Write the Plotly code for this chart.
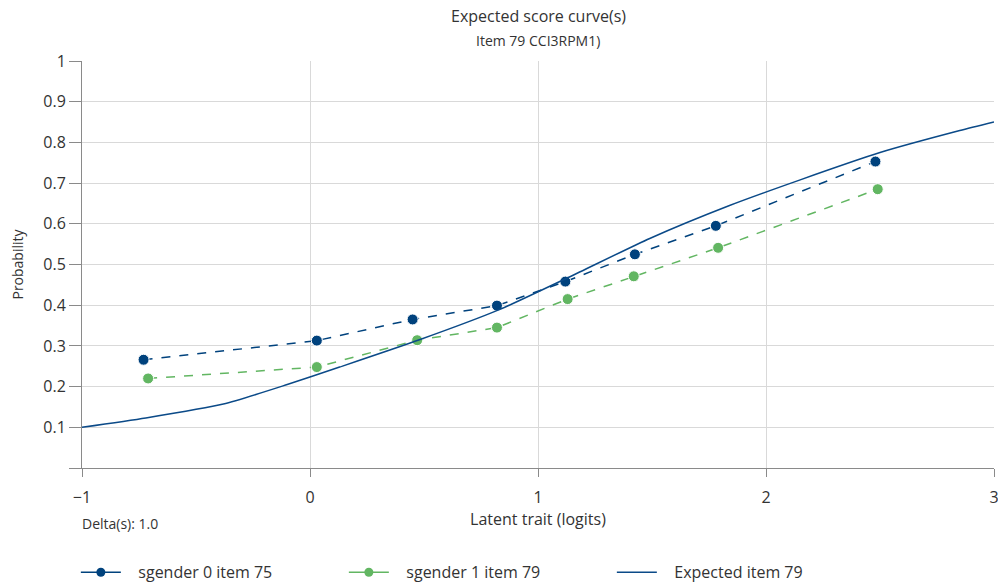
import plotly.graph_objects as go

# ---- data ----
g0_x = [-0.73, 0.03, 0.45, 0.82, 1.12, 1.425, 1.78, 2.48]
g0_y = [0.266, 0.313, 0.365, 0.399, 0.458, 0.525, 0.595, 0.753]

g1_x = [-0.71, 0.03, 0.47, 0.82, 1.13, 1.42, 1.79, 2.49]
g1_y = [0.220, 0.248, 0.314, 0.345, 0.415, 0.471, 0.541, 0.685]

exp_x = [-1.0, -0.72, -0.38, -0.10, 0.13, 0.48, 0.83, 1.14, 1.49, 1.84, 2.15,
         2.50, 2.85, 3.0]
exp_y = [0.100, 0.123, 0.157, 0.205, 0.248, 0.315, 0.389, 0.470, 0.564, 0.645,
         0.708, 0.775, 0.829, 0.850]

y_ticks = [0, 0.1, 0.2, 0.3, 0.4, 0.5, 0.6, 0.7, 0.8, 0.9, 1.0]
y_ticktext = ["", "0.1", "0.2", "0.3", "0.4", "0.5", "0.6", "0.7", "0.8", "0.9", "1"]
x_ticks = [-1, 0, 1, 2, 3]

names = ["sgender 0 item 75", "sgender 1 item 79", "Expected item 79"]
title_text = "Expected score curve(s)"
subtitle_text = "Item 79 CCI3RPM1)"
delta_text = "Delta(s): 1.0"

BLUE = "#00427d"
LINE_BLUE = "#0b4a88"
GREEN = "#62b662"
TXT = "#333333"
FONT = "Open Sans"
FS = 16
PAD = "\u00a0\u00a0\u00a0"

fig = go.Figure()
fig.add_trace(go.Scatter(
    x=g0_x, y=g0_y, mode="lines+markers", name=names[0], showlegend=False,
    line=dict(color=BLUE, width=1.5, dash="dash"),
    marker=dict(color=BLUE, size=11, line=dict(color="white", width=1)),
))
fig.add_trace(go.Scatter(
    x=g1_x, y=g1_y, mode="lines+markers", name=names[1], showlegend=False,
    line=dict(color=GREEN, width=1.5, dash="dash"),
    marker=dict(color=GREEN, size=11, line=dict(color="white", width=1)),
))
fig.add_trace(go.Scatter(
    x=exp_x, y=exp_y, mode="lines", name=names[2], showlegend=False,
    line=dict(color=LINE_BLUE, width=1.5, shape="spline", smoothing=0.6),
))
# legend entries (solid line symbols as in the reference)
fig.add_trace(go.Scatter(x=[None], y=[None], mode="lines+markers", name=PAD + names[0],
                         line=dict(color=BLUE, width=1.5),
                         marker=dict(color=BLUE, size=9)))
fig.add_trace(go.Scatter(x=[None], y=[None], mode="lines+markers", name=PAD + names[1],
                         line=dict(color=GREEN, width=1.5),
                         marker=dict(color=GREEN, size=9)))
fig.add_trace(go.Scatter(x=[None], y=[None], mode="lines", name=PAD + names[2],
                         line=dict(color=LINE_BLUE, width=1.5)))

fig.update_layout(
    width=998, height=584,
    margin=dict(l=82, r=4, t=61, b=116, autoexpand=False),
    paper_bgcolor="white", plot_bgcolor="white",
    font=dict(family=FONT, size=FS, color=TXT),
    showlegend=True,
    legend=dict(
        orientation="h", xref="container", x=0.076, xanchor="left",
        yref="container", y=0.02, yanchor="middle",
        entrywidth=213, entrywidthmode="pixels",
        font=dict(size=FS, color=TXT),
        itemwidth=40,
    ),
    xaxis=dict(
        range=[-1, 3], tickvals=x_ticks, showgrid=True, gridcolor="#d9d9d9",
        gridwidth=1, zeroline=False, showline=True, linecolor="#8a8a8a",
        linewidth=1, ticks="outside", ticklen=8, tickcolor="#8a8a8a",
        tickfont=dict(size=FS, color=TXT), ticklabeloverflow="allow",
        ticklabelstandoff=7,
        title=dict(text="Latent trait (logits)", standoff=6,
                   font=dict(size=FS, color=TXT)),
        automargin=False,
    ),
    yaxis=dict(
        range=[0, 1], tickvals=y_ticks, ticktext=y_ticktext, showgrid=True,
        gridcolor="#d9d9d9", gridwidth=1, zeroline=False, showline=True,
        linecolor="#8a8a8a", linewidth=1, ticks="outside", ticklen=12,
        tickcolor="#8a8a8a", tickfont=dict(size=FS, color=TXT),
        ticklabeloverflow="allow",
        title=dict(text="Probability", standoff=16,
                   font=dict(size=14, color=TXT)),
        automargin=False,
    ),
    annotations=[
        dict(text=title_text, xref="paper", yref="paper", x=0.5, y=1.0,
             yshift=45, xanchor="center", yanchor="middle", showarrow=False,
             font=dict(size=16, color=TXT)),
        dict(text=subtitle_text, xref="paper", yref="paper", x=0.5, y=1.0,
             yshift=21, xanchor="center", yanchor="middle", showarrow=False,
             font=dict(size=14, color=TXT)),
        dict(text=delta_text, xref="paper", yref="paper", x=0.0, y=0.0,
             yshift=-55, xanchor="left", yanchor="middle", showarrow=False,
             xshift=-2, font=dict(size=14, color=TXT)),
    ],
)

fig.write_html("out.html")
